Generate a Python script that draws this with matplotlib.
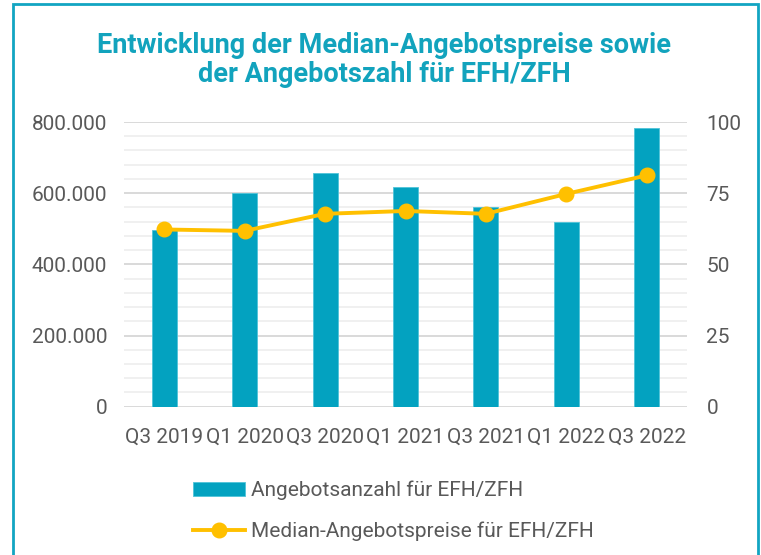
import numpy as np
import matplotlib
matplotlib.use('Agg')
from matplotlib import pyplot as plt
from matplotlib.patches import Rectangle
from matplotlib.ticker import FuncFormatter, MultipleLocator

# data
quarters = ['Q3 2019', 'Q1 2020', 'Q3 2020', 'Q1 2021', 'Q3 2021', 'Q1 2022', 'Q3 2022']
angebotsanzahl = [62, 75, 82, 77, 70, 65, 98]
median_preise = [498000, 494000, 542000, 550000, 542000, 598000, 650000]

bar_label = 'Angebotsanzahl für EFH/ZFH'
line_label = 'Median-Angebotspreise für EFH/ZFH'
title = 'Entwicklung der Median-Angebotspreise sowie\nder Angebotszahl für EFH/ZFH'

teal = '#03A2C0'
gold = '#FFC000'
grey = '#595959'

plt.rcParams['font.family'] = ['Roboto', 'DejaVu Sans']


def thousands(v, pos):
    return f'{int(v):,}'.replace(',', '.')


def main():
    fig = plt.figure(figsize=(7.61, 5.55), dpi=100)
    ax = fig.add_axes([124 / 761, 148.3 / 555, 563 / 761, 284.7 / 555])
    ax2 = ax.twinx()

    x = np.arange(len(quarters))

    # bars on the right axis, line on the left axis drawn on top
    bars = ax2.bar(x, angebotsanzahl, width=0.31, color=teal, edgecolor='#4FC3D8',
                   linewidth=0.6, zorder=3, label=bar_label)
    ax2.set_ylim(0, 100)
    ax2.yaxis.set_major_locator(MultipleLocator(25))
    ax2.yaxis.set_minor_locator(MultipleLocator(5))
    ax2.grid(which='minor', axis='y', color='#F0F0F0', linewidth=1.4, zorder=0)
    ax2.grid(which='major', axis='y', color='#D9D9D9', linewidth=1.4, zorder=0)
    ax2.set_axisbelow(True)

    line, = ax.plot(x, median_preise, color=gold, linewidth=2.8, marker='o',
                    markersize=10.5, label=line_label, zorder=4)
    ax.set_ylim(0, 800000)
    ax.yaxis.set_major_locator(MultipleLocator(200000))
    ax.yaxis.set_major_formatter(FuncFormatter(thousands))
    ax.set_xlim(-0.5, len(quarters) - 0.5)
    ax.set_xticks(x)
    ax.set_xticklabels(quarters)

    ax.set_zorder(ax2.get_zorder() + 1)
    ax.patch.set_visible(False)

    for a in (ax, ax2):
        for s in a.spines.values():
            s.set_visible(False)
    ax.tick_params(axis='y', length=0, pad=12, labelsize=15, labelcolor=grey)
    ax.tick_params(axis='x', length=0, pad=15, labelsize=15, labelcolor=grey)
    ax2.tick_params(axis='y', which='both', length=0, pad=14, labelsize=15, labelcolor=grey)

    fig.legend([bars, line], [bar_label, line_label], loc='upper left',
               bbox_to_anchor=(174 / 761, 1 - 462 / 555), frameon=False,
               fontsize=15, labelcolor=grey, handlelength=2.5, handleheight=0.6,
               handletextpad=0.3, labelspacing=1.0)

    fig.text(384 / 761, 1 - 60 / 555, title, ha='center', va='center',
             fontsize=19.5, fontweight='bold', color='#12A3BD', linespacing=1.1)

    # frame around the chart (bottom edge is cut off)
    fig.patches.append(Rectangle((12.5 / 761, -0.05), (758 - 12.5) / 761, 1.05 - 4.5 / 555,
                                 transform=fig.transFigure, fill=False,
                                 edgecolor='#12A5C2', linewidth=2))

    fig.savefig('out.png', dpi=100)


if __name__ == '__main__':
    main()
